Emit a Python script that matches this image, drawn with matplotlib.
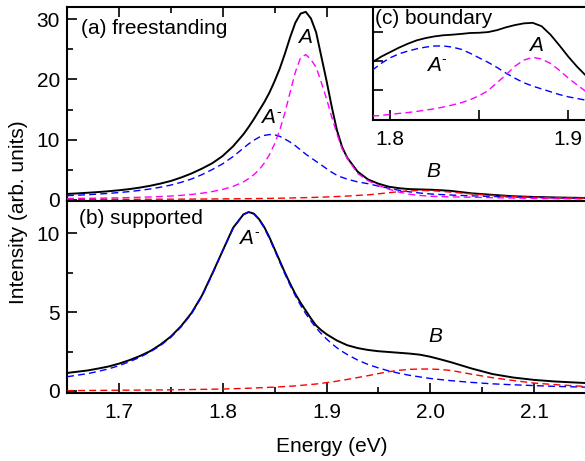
"""
Photoluminescence spectra of the monolayer: freestanding vs supported,
with Lorentzian components A, A- and B, plus an inset from the boundary.

Produces out.png
"""

import matplotlib
matplotlib.use("Agg")
import matplotlib.pyplot as plt
from matplotlib.ticker import MultipleLocator, FixedLocator, NullFormatter
from matplotlib.transforms import offset_copy

plt.rcParams["font.family"] = ["Liberation Sans", "DejaVu Sans"]

_BLACK = "#000000"
_TRION = "#0000ff"
_EXCI = "#ff00ff"
_BEXC = "#ff0000"
_DASH = (0, (5, 3))
_FS = 15

# ---- data -----------------------------------------------------------------
energy = [1.65, 1.66, 1.67, 1.68, 1.69, 1.70, 1.71, 1.72, 1.73, 1.74,
          1.75, 1.76, 1.77, 1.78, 1.79, 1.80, 1.81, 1.82,
          1.825, 1.83, 1.835, 1.84, 1.845, 1.85,
          1.855, 1.86, 1.865, 1.87, 1.875, 1.88,
          1.885, 1.89, 1.895, 1.90, 1.905, 1.91,
          1.915, 1.92, 1.93, 1.94, 1.95, 1.96,
          1.97, 1.98, 1.99, 2.00, 2.01, 2.02,
          2.04, 2.06, 2.08, 2.10, 2.12, 2.15]

# (a) freestanding
fs_total = [1.0, 1.09, 1.2, 1.31, 1.45, 1.61, 1.8, 2.05, 2.35, 2.72,
            3.15, 3.73, 4.4, 5.2, 6.1, 7.3, 8.9, 10.9,
            12.1, 13.4, 14.8, 16.2, 17.8, 19.7,
            21.8, 24.3, 27.0, 29.4, 30.9, 31.2,
            30.1, 27.8, 23.8, 19.8, 15.5, 11.6,
            8.8, 7.0, 4.7, 3.4, 2.7, 2.2,
            1.95, 1.8, 1.75, 1.7, 1.62, 1.5,
            1.1, 0.85, 0.62, 0.5, 0.42, 0.33]
fs_A = [0.25, 0.265, 0.28, 0.30, 0.33, 0.36, 0.40, 0.445, 0.50, 0.57,
        0.65, 0.77, 0.92, 1.12, 1.40, 1.75, 2.25, 3.0,
        3.55, 4.2, 5.0, 6.1, 7.5, 9.3,
        11.6, 14.5, 17.9, 21.2, 23.6, 24.1,
        23.3, 22.0, 19.5, 16.8, 13.8, 11.0,
        8.5, 6.9, 4.4, 3.2, 2.4, 1.8,
        1.3, 0.95, 0.75, 0.62, 0.57, 0.52,
        0.45, 0.38, 0.32, 0.27, 0.23, 0.18]
fs_trion = [0.72, 0.79, 0.875, 0.975, 1.09, 1.23, 1.39, 1.59, 1.82, 2.12,
            2.47, 2.93, 3.48, 4.2, 5.05, 6.0, 7.2, 8.6,
            9.3, 9.9, 10.4, 10.7, 10.85, 10.8,
            10.55, 10.1, 9.6, 9.0, 8.3, 7.6,
            7.0, 6.4, 5.8, 5.2, 4.6, 4.1,
            3.75, 3.45, 3.0, 2.7, 2.3, 1.95,
            1.6, 1.35, 1.15, 1.0, 0.9, 0.82,
            0.68, 0.58, 0.5, 0.44, 0.38, 0.32]
fs_B = [0.08, 0.085, 0.09, 0.095, 0.10, 0.105, 0.11, 0.115, 0.12, 0.125,
        0.13, 0.14, 0.15, 0.16, 0.17, 0.18, 0.19, 0.21,
        0.22, 0.23, 0.24, 0.25, 0.26, 0.28,
        0.29, 0.31, 0.33, 0.35, 0.37, 0.39,
        0.41, 0.44, 0.47, 0.50, 0.53, 0.57,
        0.61, 0.65, 0.76, 0.85, 1.02, 1.20,
        1.38, 1.52, 1.57, 1.55, 1.45, 1.30,
        1.0, 0.75, 0.56, 0.45, 0.38, 0.30]

# (b) supported
sp_total = [1.14, 1.22, 1.3, 1.42, 1.55, 1.73, 1.95, 2.21, 2.52, 2.94,
            3.45, 4.12, 4.95, 6.05, 7.45, 8.9, 10.35, 11.2,
            11.35, 11.25, 10.9, 10.4, 9.75, 9.0,
            8.25, 7.5, 6.8, 6.15, 5.6, 5.1,
            4.6, 4.15, 3.85, 3.6, 3.4, 3.2,
            3.05, 2.9, 2.72, 2.6, 2.52, 2.47,
            2.42, 2.37, 2.3, 2.17, 2.0, 1.82,
            1.42, 1.07, 0.85, 0.7, 0.6, 0.5]
sp_trion = [0.9, 1.0, 1.1, 1.24, 1.4, 1.6, 1.85, 2.13, 2.47, 2.88,
            3.4, 4.07, 4.9, 6.0, 7.4, 8.9, 10.3, 11.2,
            11.35, 11.23, 10.88, 10.34, 9.67, 8.93,
            8.16, 7.41, 6.7, 6.04, 5.44, 4.9,
            4.43, 4.0, 3.63, 3.3, 3.0, 2.74,
            2.51, 2.31, 1.96, 1.68, 1.46, 1.27,
            1.12, 0.99, 0.89, 0.79, 0.72, 0.65,
            0.54, 0.45, 0.39, 0.34, 0.29, 0.24]
sp_B = [0.02, 0.025, 0.03, 0.035, 0.04, 0.045, 0.05, 0.055, 0.06, 0.065,
        0.07, 0.08, 0.09, 0.10, 0.11, 0.12, 0.14, 0.16,
        0.17, 0.18, 0.20, 0.21, 0.23, 0.24,
        0.26, 0.28, 0.30, 0.32, 0.35, 0.38,
        0.41, 0.44, 0.48, 0.53, 0.57, 0.62,
        0.68, 0.73, 0.85, 0.97, 1.10, 1.22,
        1.31, 1.37, 1.39, 1.39, 1.36, 1.30,
        1.06, 0.84, 0.66, 0.50, 0.40, 0.28]

# (c) boundary (inset, arbitrary units)
energy_c = [1.79, 1.795, 1.80, 1.805, 1.81, 1.815, 1.82, 1.825, 1.83,
            1.835, 1.84, 1.845, 1.85, 1.855, 1.86, 1.865, 1.87, 1.875,
            1.88, 1.885, 1.89, 1.895, 1.90, 1.905, 1.91]
bd_total = [0.51, 0.56, 0.60, 0.64, 0.675, 0.705, 0.725, 0.74, 0.75,
            0.755, 0.762, 0.77, 0.772, 0.778, 0.795, 0.82, 0.84, 0.855,
            0.86, 0.83, 0.755, 0.66, 0.56, 0.47, 0.39]
bd_trion = [0.44, 0.50, 0.55, 0.585, 0.61, 0.63, 0.645, 0.655, 0.655,
            0.645, 0.625, 0.59, 0.55, 0.51, 0.465, 0.415, 0.37, 0.33,
            0.30, 0.275, 0.25, 0.225, 0.205, 0.19, 0.175]
bd_A = [0.035, 0.04, 0.05, 0.058, 0.066, 0.076, 0.087, 0.10, 0.115,
        0.133, 0.153, 0.18, 0.215, 0.26, 0.33, 0.40, 0.475, 0.53,
        0.555, 0.54, 0.50, 0.44, 0.37, 0.31, 0.25]


def _style(ax, top=False, bottom=True):
    for sp in ax.spines.values():
        sp.set_linewidth(1.5)
    ax.spines["right"].set_visible(False)
    ax.tick_params(which="both", direction="in", width=1.2, labelsize=_FS,
                   top=top, bottom=bottom, right=False,
                   labelbottom=bottom, labeltop=False)
    ax.tick_params(which="major", length=7)
    ax.tick_params(which="minor", length=4)
    ax.tick_params(axis="y", pad=5)
    ax.tick_params(axis="x", pad=7)


def _peak_label(ax, x, y, name, minus=False):
    """Italic peak name; A- gets a small raised hyphen like the original."""
    ax.text(x, y, name, fontsize=_FS, style="italic", ha="center", va="center")
    if minus:
        tr = offset_copy(ax.transData, fig=ax.figure, x=7.5, y=4.5, units="points")
        ax.text(x, y, "-", fontsize=10, ha="center", va="center", transform=tr)


fig = plt.figure(figsize=(5.85, 4.61), dpi=100)
W, H = 585.0, 461.0
ax_a = fig.add_axes([67 / W, 1 - 200.7 / H, (586 - 67) / W, (200.7 - 7) / H])
ax_b = fig.add_axes([67 / W, 1 - 393.3 / H, (586 - 67) / W, (393.3 - 200.7) / H])
ax_c = fig.add_axes([372.7 / W, 1 - 120 / H, (586 - 372.7) / W, (120 - 7) / H])

# panel (a)
ax_a.plot(energy, fs_total, color=_BLACK, lw=1.4, zorder=3)
ax_a.plot(energy, fs_trion, color=_TRION, lw=1.0, ls=_DASH, zorder=4)
ax_a.plot(energy, fs_A, color=_EXCI, lw=1.0, ls=_DASH, zorder=4)
ax_a.plot(energy, fs_B, color=_BEXC, lw=1.0, ls=_DASH, zorder=4)
ax_a.set_xlim(1.65, 2.15)
ax_a.set_ylim(-0.12, 32.0)
ax_a.xaxis.set_major_locator(MultipleLocator(0.1))
ax_a.xaxis.set_minor_locator(MultipleLocator(0.05))
ax_a.yaxis.set_major_locator(MultipleLocator(10))
ax_a.yaxis.set_minor_locator(MultipleLocator(5))
_style(ax_a, top=True, bottom=False)
ax_a.text(0.027, 0.89, "(a) freestanding", transform=ax_a.transAxes,
          fontsize=_FS, va="center", ha="left")
_peak_label(ax_a, 1.8795, 27.0, "A")
_peak_label(ax_a, 1.844, 13.6, "A", minus=True)
_peak_label(ax_a, 2.003, 4.8, "B")

# panel (b)
ax_b.plot(energy, sp_total, color=_BLACK, lw=1.4, zorder=3)
ax_b.plot(energy, sp_trion, color=_TRION, lw=1.0, ls=_DASH, zorder=4)
ax_b.plot(energy, sp_B, color=_BEXC, lw=1.0, ls=_DASH, zorder=4)
ax_b.set_xlim(1.65, 2.15)
ax_b.set_ylim(-0.15, 12.07)
ax_b.xaxis.set_major_locator(MultipleLocator(0.1))
ax_b.xaxis.set_minor_locator(MultipleLocator(0.05))
ax_b.yaxis.set_major_locator(MultipleLocator(5))
ax_b.yaxis.set_minor_locator(MultipleLocator(2.5))
_style(ax_b, top=False, bottom=True)
ax_b.text(0.023, 0.91, "(b) supported", transform=ax_b.transAxes,
          fontsize=_FS, va="center", ha="left")
_peak_label(ax_b, 1.8225, 9.7, "A", minus=True)
_peak_label(ax_b, 2.005, 3.45, "B")

# inset (c)
ax_c.plot(energy_c, bd_total, color=_BLACK, lw=1.3, zorder=3)
ax_c.plot(energy_c, bd_trion, color=_TRION, lw=1.0, ls=_DASH, zorder=4)
ax_c.plot(energy_c, bd_A, color=_EXCI, lw=1.0, ls=_DASH, zorder=4)
ax_c.set_xlim(1.7903, 1.9099)
ax_c.set_ylim(0, 1)
ax_c.xaxis.set_major_locator(FixedLocator([1.8, 1.9]))
ax_c.xaxis.set_minor_locator(FixedLocator([1.85]))
ax_c.yaxis.set_major_locator(FixedLocator([0.265, 0.522, 0.779]))
ax_c.yaxis.set_major_formatter(NullFormatter())
_style(ax_c, top=False, bottom=True)
ax_c.tick_params(which="both", length=7)
ax_c.text(0.01, 0.9, "(c) boundary", transform=ax_c.transAxes,
          fontsize=_FS, va="center", ha="left")
_peak_label(ax_c, 1.8245, 0.48, "A", minus=True)
_peak_label(ax_c, 1.882, 0.66, "A")

fig.text(19 / W, 1 - 212 / H, "Intensity (arb. units)", rotation=90,
         fontsize=_FS, ha="center", va="center")
fig.text(332 / W, 1 - 446 / H, "Energy (eV)", fontsize=_FS,
         ha="center", va="center")

fig.savefig("out.png", dpi=100)
